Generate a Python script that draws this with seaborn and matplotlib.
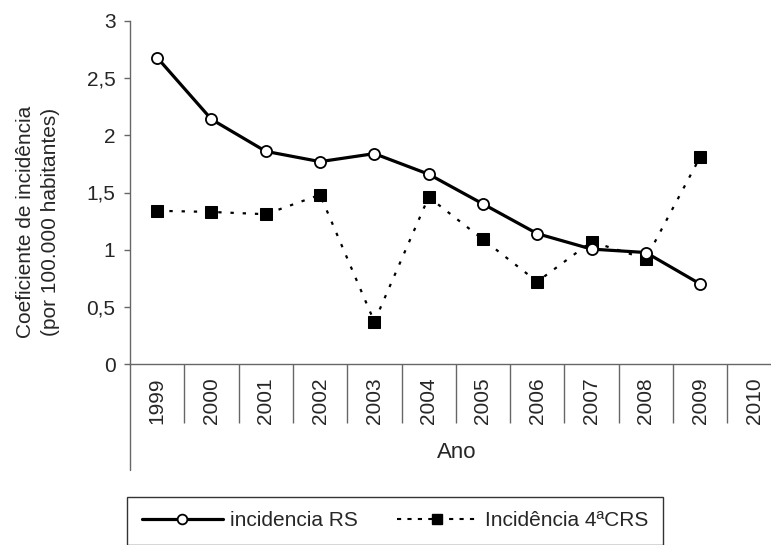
import numpy as np
import pandas as pd
import seaborn as sns
import matplotlib.pyplot as plt
from matplotlib.lines import Line2D

anos = ['1999', '2000', '2001', '2002', '2003', '2004',
        '2005', '2006', '2007', '2008', '2009', '2010']
incid_rs = [2.68, 2.14, 1.86, 1.77, 1.84, 1.66, 1.40, 1.14, 1.005, 0.975, 0.70]
incid_4crs = [1.34, 1.33, 1.31, 1.48, 0.37, 1.46, 1.09, 0.72, 1.07, 0.92, 1.81]
y_ticks = [0, 0.5, 1, 1.5, 2, 2.5, 3]
y_ticklabels = ['0', '0,5', '1', '1,5', '2', '2,5', '3']

sns.set_style('white')
plt.rcParams['font.family'] = ['Liberation Sans', 'DejaVu Sans']

W, H = 771, 545
fig = plt.figure(figsize=(W / 100, H / 100), dpi=100)
# plot area in pixels: left 130, top 21, bottom 364 (axis runs past the right edge)
ax = fig.add_axes([130 / W, 1 - 364 / H, (W - 130) / W, (364 - 21) / H])

df_rs = pd.DataFrame({'ano': np.arange(len(incid_rs)), 'valor': incid_rs})
df_crs = pd.DataFrame({'ano': np.arange(len(incid_4crs)), 'valor': incid_4crs})

sns.lineplot(data=df_crs, x='ano', y='valor', ax=ax, color='black', lw=1.6,
             linestyle=(0, (1.5, 4)), marker='s', markersize=8.5,
             markerfacecolor='black', markeredgecolor='black', zorder=2)
sns.lineplot(data=df_rs, x='ano', y='valor', ax=ax, color='black', lw=2.3,
             marker='o', markersize=8, markerfacecolor='white',
             markeredgecolor='black', markeredgewidth=1.3, zorder=3)

cat_w = 54.3
ax.set_xlim(-0.5, -0.5 + (W - 130) / cat_w)
ax.set_ylim(0, 3)

axis_col = '#666666'
for s in ['top', 'right']:
    ax.spines[s].set_visible(False)
for s in ['left', 'bottom']:
    ax.spines[s].set_color(axis_col)
    ax.spines[s].set_linewidth(1)

ax.set_yticks(y_ticks)
ax.set_yticklabels(y_ticklabels, fontsize=15)
ax.tick_params(axis='y', direction='out', length=4.5, width=1, color=axis_col,
               pad=6, left=True)

# category separators as long major ticks, year labels on minor ticks
ax.set_xticks(np.arange(0.5, len(anos) - 0.5, 1))
ax.set_xticklabels([])
ax.tick_params(axis='x', which='major', direction='out', length=42.5, width=1,
               color=axis_col, bottom=True)
ax.set_xticks(np.arange(len(anos)), minor=True)
ax.set_xticklabels(anos, minor=True, rotation=90, fontsize=15)
ax.tick_params(axis='x', which='minor', length=0, pad=9.5)

ax.set_xlabel('')
ax.set_ylabel('')

# left axis line continues below the category labels
ax.add_line(Line2D([-0.5, -0.5], [0, -(470 - 364) / (364 - 21)],
                   transform=ax.get_xaxis_transform(), color=axis_col, lw=1,
                   clip_on=False))

fig.text(457 / W, 1 - 453 / H, 'Ano', fontsize=16, ha='center', va='center')
fig.text(38 / W, 1 - 222 / H,
         'Coeficiente de incidência\n(por 100.000 habitantes)',
         fontsize=15, rotation=90, ha='center', va='center',
         multialignment='center', linespacing=1.45)

handles = [
    Line2D([], [], color='black', lw=2.3, marker='o', markersize=7,
           markerfacecolor='white', markeredgecolor='black', markeredgewidth=1.3),
    Line2D([], [], color='black', lw=1.5, linestyle=(0, (2, 3)), marker='s',
           markersize=7.5, markerfacecolor='black'),
]
leg = fig.legend(handles, ['incidencia RS', 'Incidência 4ªCRS'], ncol=2,
                 loc='upper left', mode='expand',
                 bbox_to_anchor=(127 / W, 1 - 502 / H, (663 - 127) / W, 0.01),
                 bbox_transform=fig.transFigure, fontsize=15, frameon=True,
                 fancybox=False, edgecolor='black', borderpad=0.7,
                 handlelength=3.9, handletextpad=0.35, borderaxespad=0)
leg.get_frame().set_linewidth(1)

fig.savefig('out.png', dpi=100)
